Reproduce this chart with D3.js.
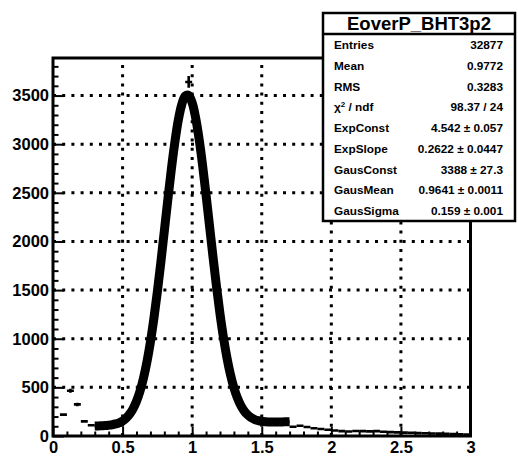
<!DOCTYPE html>
<html><head><meta charset="utf-8">
<script src="https://cdn.jsdelivr.net/npm/d3@7/dist/d3.min.js"></script>
<style>body{margin:0;background:#fff}svg{display:block}</style>
</head><body>
<svg id="c" width="518" height="459"></svg>
<script>
// ---- data ----
const binWidth = 0.05;           // 60 bins from 0 to 3
const counts = [0,220,465,325,150,110,
  98,112,110,140,176,288,452,770,1195,1810,2400,3040,3380,3640,3250,2800,2140,1545,1000,640,385,262,180,160,150,140,150,145,
  95,105,92,80,72,65,56,50,47,52,50,48,50,44,40,37,35,33,30,28,26,24,22,20,18,16];
const fitStart = 0.3, fitStep = 0.025;
const fitY = [102,103,105,107,111,116,124,136,155,183,223,279,357,460,594,762,967,1209,1484,1786,2108,2428,2738,3014,3244,3407,3495,3501,3425,3271,3052,2781,2476,2156,1837,1534,1256,1011,803,632,496,391,312,255,215,187,169,158,151,147,145,144,144,144,145,146,147];
const xTickVals = [0,0.5,1,1.5,2,2.5,3];
const xTickLabels = ["0","0.5","1","1.5","2","2.5","3"];
const yTickVals = [0,500,1000,1500,2000,2500,3000,3500];
const statsTitle = "EoverP_BHT3p2";
const statsLabels = ["Entries","Mean","RMS","CHI","ExpConst","ExpSlope","GausConst","GausMean","GausSigma"];
const statsValues = ["32877","0.9772","0.3283","98.37 / 24","4.542 \u00b1 0.057","0.2622 \u00b1 0.0447","3388 \u00b1 27.3","0.9641 \u00b1 0.0011","0.159 \u00b1 0.001"];

// ---- drawing ----
const FONT = "'Liberation Sans', Arial, Helvetica, sans-serif";
const svg = d3.select("#c");
const x = d3.scaleLinear().domain([0,3]).range([53,470.5]);
const y = d3.scaleLinear().domain([0,3886]).range([436,58]);

// grid
const grid = svg.append("g").attr("stroke","#000").attr("stroke-width",3).attr("stroke-dasharray","3,6.2");
xTickVals.filter(v=>v>0&&v<3).forEach(v=>{
  grid.append("line").attr("x1",x(v)).attr("x2",x(v)).attr("y1",y(0)).attr("y2",y.range()[1]);
});
yTickVals.filter(v=>v>0).forEach(v=>{
  grid.append("line").attr("x1",x(0)).attr("x2",x(3)).attr("y1",y(v)).attr("y2",y(v));
});

// axes
const minorX = d3.range(0,31).map(i=>i/10).filter(v=>Math.abs(v*2-Math.round(v*2))>1e-6);
const minorY = d3.range(0,39).map(i=>i*100).filter(v=>v%500!==0);
function styleAxis(g){ g.select(".domain").remove(); g.selectAll("line").attr("stroke","#000").attr("stroke-width",2);
  g.selectAll("text").attr("font-family",FONT).attr("font-weight","bold").attr("font-size",16.5).attr("fill","#000"); }
svg.append("g").attr("transform",`translate(0,${y(0)})`)
  .call(d3.axisBottom(x).tickValues(minorX).tickSize(-4.5).tickFormat("")).call(styleAxis);
svg.append("g").attr("transform",`translate(0,${y(0)})`)
  .call(d3.axisBottom(x).tickValues(xTickVals).tickSize(-9).tickPadding(5).tickFormat((d,i)=>xTickLabels[i])).call(styleAxis);
svg.append("g").attr("transform",`translate(${x(0)},0)`)
  .call(d3.axisLeft(y).tickValues(minorY).tickSize(-5.5).tickFormat("")).call(styleAxis);
svg.append("g").attr("transform",`translate(${x(0)},0)`)
  .call(d3.axisLeft(y).tickValues(yTickVals).tickSize(-11).tickPadding(4).tickFormat(d3.format("d"))).call(styleAxis);

// histogram with error bars
const hist = svg.append("g").attr("stroke","#000").attr("stroke-width",2.6).attr("fill","none");
counts.forEach((c,i)=>{
  if(c<=0) return;
  const lo=i*binWidth, hi=(i+1)*binWidth, mid=(i+0.5)*binWidth, e=Math.sqrt(c);
  hist.append("path").attr("d",`M${x(lo)},${y(c)}H${x(hi)}M${x(mid)},${y(c-e)}V${y(c+e)}`);
});

// fit function
const fitPts = fitY.map((v,i)=>[fitStart+i*fitStep, v]);
svg.append("path").datum(fitPts)
  .attr("d", d3.line().x(d=>x(d[0])).y(d=>y(d[1])).curve(d3.curveCatmullRom))
  .attr("fill","none").attr("stroke","#000").attr("stroke-width",9).attr("stroke-linejoin","round");

// frame
svg.append("rect").attr("x",x(0)).attr("y",y.range()[1]).attr("width",x(3)-x(0)).attr("height",y(0)-y.range()[1])
  .attr("fill","none").attr("stroke","#000").attr("stroke-width",3);

// stats box
const bx=323, by=13, bw=192, bh=208;
const st = svg.append("g");
st.append("rect").attr("x",bx).attr("y",by).attr("width",bw).attr("height",bh).attr("fill","#fff").attr("stroke","#000").attr("stroke-width",2.5);
st.append("line").attr("x1",bx).attr("x2",bx+bw).attr("y1",34).attr("y2",34).attr("stroke","#000").attr("stroke-width",2.5);
st.append("text").attr("x",bx+bw/2).attr("y",30).attr("text-anchor","middle").attr("font-family",FONT)
  .attr("font-weight","bold").attr("font-size",18.5).text(statsTitle);
statsLabels.forEach((lab,i)=>{
  const yy = 45 + i*20.7 + 4.3;
  const t = st.append("text").attr("x",334).attr("y",yy).attr("font-family",FONT).attr("font-weight","bold").attr("font-size",11.8);
  if(lab==="CHI"){ t.append("tspan").text("\u03c7"); t.append("tspan").attr("font-size",8).attr("dy",-4).text("2");
    t.append("tspan").attr("dy",4).text(" / ndf"); }
  else t.text(lab);
  st.append("text").attr("x",503).attr("y",yy).attr("text-anchor","end").attr("font-family",FONT).attr("font-weight","bold")
    .attr("font-size",11.8).text(statsValues[i]);
});
</script>
</body></html>
